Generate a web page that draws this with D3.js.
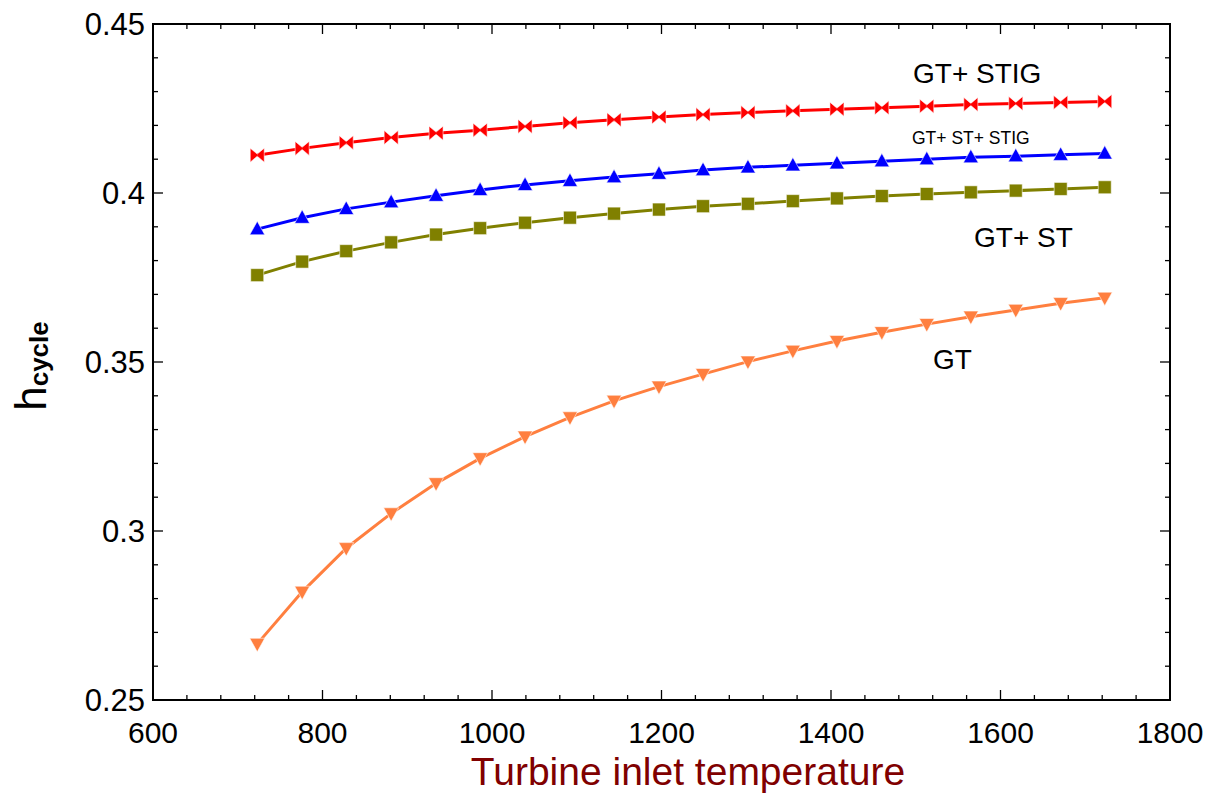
<!DOCTYPE html>
<html>
<head>
<meta charset="utf-8">
<script src="https://cdn.jsdelivr.net/npm/d3@7"></script>
<style>
  html, body { margin: 0; padding: 0; background: #fff; }
  svg { display: block; font-family: "Liberation Sans", Arial, sans-serif; }
</style>
</head>
<body>
<svg id="chart" width="1212" height="793"></svg>
<script>
// Turbine inlet temperature (K)
const temperature = [723, 776, 828, 881, 934, 986, 1039, 1092, 1144, 1197,
                     1249, 1302, 1355, 1407, 1460, 1513, 1565, 1618, 1671, 1723];

// Cycle efficiency per configuration
const gtStig = [0.4112, 0.4132, 0.4149, 0.4164, 0.4177, 0.4186, 0.4197, 0.4208, 0.4217, 0.4225,
                0.4232, 0.4238, 0.4243, 0.4248, 0.4252, 0.4257, 0.4262, 0.4265, 0.4268, 0.4271];
const gtStStig = [0.3893, 0.3927, 0.3953, 0.3973, 0.3992, 0.4009, 0.4024, 0.4036, 0.4047, 0.4057,
                  0.4068, 0.4076, 0.4082, 0.4088, 0.4094, 0.4100, 0.4106, 0.4109, 0.4113, 0.4117];
const gtSt = [0.3757, 0.3797, 0.3828, 0.3854, 0.3877, 0.3896, 0.3912, 0.3927, 0.3939, 0.3951,
              0.3961, 0.3968, 0.3976, 0.3984, 0.3991, 0.3997, 0.4002, 0.4007, 0.4012, 0.4017];
const gt = [0.2666, 0.2820, 0.2949, 0.3052, 0.3141, 0.3215, 0.3279, 0.3336, 0.3385, 0.3427,
            0.3464, 0.3501, 0.3533, 0.3562, 0.3588, 0.3612, 0.3634, 0.3654, 0.3674, 0.3690];

// Axis ticks
const xTicks = [600, 800, 1000, 1200, 1400, 1600, 1800];
const xTickLabels = ["600", "800", "1000", "1200", "1400", "1600", "1800"];
const yTicks = [0.25, 0.3, 0.35, 0.4, 0.45];
const yTickLabels = ["0.25", "0.3", "0.35", "0.4", "0.45"];

const svg = d3.select("#chart");
const plot = { left: 153, right: 1170, top: 24, bottom: 700 };

const x = d3.scaleLinear().domain([600, 1800]).range([plot.left, plot.right]);
const y = d3.scaleLinear().domain([0.25, 0.45]).range([plot.bottom, plot.top]);

// Frame
svg.append("rect")
  .attr("x", plot.left).attr("y", plot.top)
  .attr("width", plot.right - plot.left).attr("height", plot.bottom - plot.top)
  .attr("fill", "none").attr("stroke", "#000").attr("stroke-width", 2);

// Minor and major ticks, drawn inward on all four sides
const xMinor = d3.range(600, 1800.1, 40);
const yMinor = d3.range(0, 21).map(i => 0.25 + i * 0.01);
const isMajorX = v => xTicks.some(t => Math.abs(t - v) < 1e-6);
const isMajorY = v => yTicks.some(t => Math.abs(t - v) < 1e-6);
const tickG = svg.append("g").attr("stroke", "#000").attr("stroke-width", 1.3);

xMinor.forEach(v => {
  const len = isMajorX(v) ? 10 : 5;
  const px = x(v);
  tickG.append("line").attr("x1", px).attr("x2", px).attr("y1", plot.bottom).attr("y2", plot.bottom - len);
  tickG.append("line").attr("x1", px).attr("x2", px).attr("y1", plot.top).attr("y2", plot.top + len);
});
yMinor.forEach(v => {
  const len = isMajorY(v) ? 10 : 5;
  const py = y(v);
  tickG.append("line").attr("x1", plot.left).attr("x2", plot.left + len).attr("y1", py).attr("y2", py);
  tickG.append("line").attr("x1", plot.right).attr("x2", plot.right - len).attr("y1", py).attr("y2", py);
});

// Tick labels
svg.append("g").selectAll("text").data(xTicks).join("text")
  .attr("x", d => x(d)).attr("y", 743)
  .attr("text-anchor", "middle").attr("font-size", 30)
  .text((d, i) => xTickLabels[i]);
svg.append("g").selectAll("text").data(yTicks).join("text")
  .attr("x", 145).attr("y", d => y(d)).attr("dy", "0.36em")
  .attr("text-anchor", "end").attr("font-size", 31)
  .text((d, i) => yTickLabels[i]);

// Axis titles
svg.append("text")
  .attr("x", 688).attr("y", 785)
  .attr("text-anchor", "middle").attr("font-size", 39).attr("fill", "#800000")
  .text("Turbine inlet temperature");

const yTitle = svg.append("text")
  .attr("transform", "translate(46,366) rotate(-90)")
  .attr("text-anchor", "middle");
yTitle.append("tspan").attr("font-size", 44).text("h");
yTitle.append("tspan").attr("font-size", 26).attr("font-weight", "bold").attr("dy", 2).text("cycle");

// Marker shapes
const bowtie = s => `M${-s},${-s}L0,${-s * 0.15}L${s},${-s}L${s},${s}L0,${s * 0.15}L${-s},${s}Z`;
const triUp = s => `M0,${-s * 1.05}L${s},${s * 0.75}L${-s},${s * 0.75}Z`;
const triDown = s => `M0,${s * 1.05}L${s},${-s * 0.75}L${-s},${-s * 0.75}Z`;
const square = s => `M${-s},${-s}H${s}V${s}H${-s}Z`;

const series = [
  { values: gt, color: "#ff7f3f", shape: triDown(7.5) },
  { values: gtSt, color: "#808000", shape: square(6.5) },
  { values: gtStStig, color: "#0000ff", shape: triUp(7.5) },
  { values: gtStig, color: "#ff0000", shape: bowtie(7) }
];

const line = d3.line().x((d, i) => x(temperature[i])).y(d => y(d));

series.forEach(s => {
  svg.append("path")
    .datum(s.values)
    .attr("d", line)
    .attr("fill", "none")
    .attr("stroke", s.color)
    .attr("stroke-width", 3);
  svg.append("g").selectAll("path").data(s.values).join("path")
    .attr("transform", (d, i) => `translate(${x(temperature[i])},${y(d)})`)
    .attr("d", s.shape)
    .attr("fill", s.color)
    .attr("stroke", "#fff")
    .attr("stroke-opacity", 0.7)
    .attr("stroke-width", 0.8)
    .attr("stroke-linejoin", "miter");
});

// Series labels
const labels = [
  { text: "GT+ STIG", x: 913, y: 83, size: 28 },
  { text: "GT+ ST+ STIG", x: 912, y: 144, size: 17.5 },
  { text: "GT+ ST", x: 974, y: 247, size: 28 },
  { text: "GT", x: 933, y: 369, size: 28 }
];
svg.append("g").selectAll("text").data(labels).join("text")
  .attr("x", d => d.x).attr("y", d => d.y)
  .attr("font-size", d => d.size)
  .text(d => d.text);
</script>
</body>
</html>
